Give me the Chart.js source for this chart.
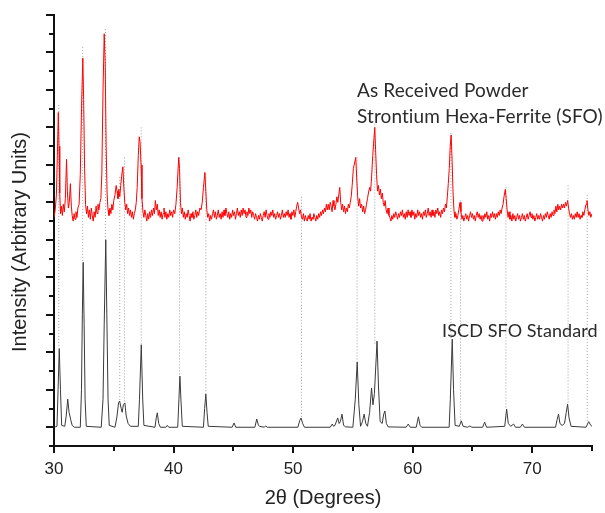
<!DOCTYPE html>
<html>
<head>
<meta charset="utf-8">
<script src="https://cdn.jsdelivr.net/npm/chart.js@4.4.0/dist/chart.umd.min.js"></script>
<style>
  html, body { margin: 0; padding: 0; background: #fff; }
</style>
</head>
<body>
<canvas id="xrd" width="605" height="513"></canvas>
<script>
const sfoScan = [
  [30.00,12.2],[30.10,12.6],[30.20,13.4],[30.28,15.5],[30.36,17.8],[30.42,16.0],[30.48,13.5],[30.55,12.4],
  [30.62,12.8],[30.70,12.3],[30.78,12.9],[30.86,12.5],[30.95,13.2],[31.05,15.3],[31.12,13.6],[31.20,12.7],
  [31.28,13.0],[31.37,14.0],[31.45,12.8],[31.52,12.3],[31.60,12.0],[31.68,12.4],[31.76,12.1],[31.84,12.5],
  [31.92,12.2],[32.00,12.7],[32.10,12.9],[32.20,14.5],[32.30,18.0],[32.41,20.7],[32.48,18.5],[32.56,14.8],
  [32.64,12.9],[32.72,12.4],[32.80,12.8],[32.88,12.2],[32.96,12.6],[33.04,12.1],[33.12,12.7],[33.20,12.3],
  [33.28,12.0],[33.36,12.5],[33.44,12.2],[33.52,12.8],[33.60,12.4],[33.68,12.9],[33.76,12.6],[33.84,13.0],
  [33.92,13.2],[34.00,14.5],[34.10,19.0],[34.20,22.0],[34.28,20.5],[34.36,16.0],[34.44,13.5],[34.52,12.6],
  [34.60,12.3],[34.68,12.7],[34.76,12.4],[34.84,12.9],[34.92,12.6],[35.00,13.1],[35.10,13.4],[35.20,13.9],
  [35.27,13.6],[35.35,13.2],[35.42,13.7],[35.50,13.3],[35.58,13.9],[35.66,14.4],[35.76,14.9],[35.84,13.8],
  [35.92,13.0],[36.00,12.6],[36.08,12.9],[36.16,12.4],[36.24,12.7],[36.32,12.3],[36.40,12.6],[36.48,12.2],
  [36.56,12.5],[36.64,12.1],[36.72,12.4],[36.80,12.6],[36.88,13.0],[36.96,13.8],[37.05,15.5],[37.13,16.5],
  [37.20,16.2],[37.28,15.0],[37.36,13.2],[37.44,12.5],[37.52,12.2],[37.60,12.6],[37.68,12.3],[37.76,12.0],
  [37.84,12.4],[37.92,12.1],[38.00,12.5],[38.08,12.2],[38.16,12.6],[38.24,12.3],[38.32,12.7],[38.40,12.4],
  [38.48,13.1],[38.56,12.6],[38.64,12.9],[38.72,12.3],[38.80,12.6],[38.88,12.2],[38.96,12.5],[39.04,12.1],
  [39.12,12.4],[39.20,12.7],[39.28,12.2],[39.36,12.5],[39.44,12.1],[39.52,12.4],[39.60,12.2],[39.68,12.6],
  [39.76,12.3],[39.84,12.5],[39.92,12.2],[40.00,12.6],[40.10,12.4],[40.20,12.9],[40.30,13.8],[40.43,15.4],
  [40.50,14.8],[40.58,13.0],[40.66,12.4],[40.74,12.7],[40.82,12.2],[40.90,12.5],[40.98,12.1],[41.06,12.4],
  [41.14,12.2],[41.22,12.6],[41.30,12.3],[41.38,12.0],[41.46,12.4],[41.54,12.2],[41.62,12.5],[41.70,12.1],
  [41.78,12.3],[41.86,12.6],[41.94,12.2],[42.02,12.5],[42.10,12.3],[42.20,12.7],[42.30,12.6],[42.40,13.0],
  [42.50,13.8],[42.62,14.6],[42.70,13.6],[42.78,12.6],[42.86,12.2],[42.94,12.4],[43.02,12.0],[43.10,12.3],
  [43.18,12.1],[43.26,12.4],[43.34,12.6],[43.42,12.2],[43.50,12.5],[43.58,12.1],[43.66,12.3],[43.74,12.6],
  [43.82,12.2],[43.90,12.4],[43.98,12.1],[44.06,12.5],[44.14,12.2],[44.22,12.6],[44.30,12.3],[44.38,12.7],
  [44.46,12.4],[44.54,12.2],[44.62,12.5],[44.70,12.1],[44.78,12.4],[44.86,12.2],[44.94,12.6],[45.02,12.3],
  [45.10,12.5],[45.18,12.1],[45.26,12.4],[45.34,12.7],[45.42,12.3],[45.50,12.5],[45.58,12.2],[45.66,12.6],
  [45.74,12.3],[45.82,12.7],[45.90,12.4],[45.98,12.6],[46.06,12.2],[46.14,12.5],[46.22,12.3],[46.30,12.7],
  [46.38,12.4],[46.46,12.6],[46.54,12.2],[46.62,12.5],[46.70,12.3],[46.78,12.1],[46.86,12.4],[46.94,12.2],
  [47.02,12.0],[47.10,12.3],[47.18,12.1],[47.26,12.4],[47.34,12.2],[47.42,12.0],[47.50,12.3],[47.58,12.5],
  [47.66,12.2],[47.74,12.6],[47.82,12.3],[47.90,12.1],[47.98,12.4],[48.06,12.2],[48.14,12.5],[48.22,12.3],
  [48.30,12.6],[48.38,12.2],[48.46,12.4],[48.54,12.1],[48.62,12.3],[48.70,12.5],[48.78,12.2],[48.86,12.4],
  [48.94,12.1],[49.02,12.3],[49.10,12.6],[49.18,12.2],[49.26,12.4],[49.34,12.2],[49.42,12.5],[49.50,12.3],
  [49.58,12.6],[49.66,12.2],[49.74,12.4],[49.82,12.1],[49.90,12.5],[49.98,12.3],[50.06,12.6],[50.14,12.2],
  [50.22,12.5],[50.30,12.8],[50.38,13.0],[50.46,12.7],[50.54,12.4],[50.62,12.6],[50.70,12.2],[50.78,12.1],
  [50.86,12.4],[50.94,12.0],[51.02,12.3],[51.10,12.1],[51.18,12.0],[51.26,12.3],[51.34,12.1],[51.42,12.4],
  [51.50,12.0],[51.58,12.2],[51.66,12.1],[51.74,12.4],[51.82,12.2],[51.90,12.0],[51.98,12.3],[52.06,12.1],
  [52.14,12.4],[52.22,12.2],[52.30,12.5],[52.38,12.3],[52.46,12.6],[52.54,12.4],[52.62,12.7],[52.70,12.5],
  [52.78,12.9],[52.86,12.6],[52.94,12.9],[53.02,12.6],[53.10,13.0],[53.18,12.8],[53.26,12.5],[53.34,13.1],
  [53.42,12.8],[53.50,12.6],[53.58,12.9],[53.66,13.3],[53.74,13.0],[53.82,13.4],[53.90,13.8],[53.98,13.0],
  [54.06,12.6],[54.14,12.9],[54.22,12.5],[54.30,12.8],[54.38,12.4],[54.46,12.7],[54.54,12.5],[54.62,12.9],
  [54.70,12.7],[54.78,13.0],[54.86,13.3],[54.94,13.9],[55.04,14.8],[55.14,15.1],[55.24,15.4],[55.32,14.3],
  [55.40,13.3],[55.48,12.8],[55.56,13.2],[55.64,12.7],[55.73,12.9],[55.82,12.5],[55.90,12.8],[55.98,12.4],
  [56.06,12.6],[56.14,12.9],[56.22,13.2],[56.30,13.5],[56.40,13.8],[56.48,13.6],[56.56,14.3],[56.66,15.5],
  [56.76,16.4],[56.83,17.0],[56.90,15.8],[56.98,14.5],[57.06,13.6],[57.14,13.9],[57.22,13.4],[57.30,13.7],
  [57.38,13.2],[57.46,13.5],[57.54,13.0],[57.62,12.8],[57.70,13.1],[57.78,12.6],[57.86,12.4],[57.94,12.7],
  [58.02,12.3],[58.10,12.2],[58.18,12.0],[58.26,12.3],[58.34,12.1],[58.42,12.4],[58.50,12.2],[58.58,12.5],
  [58.66,12.3],[58.74,12.1],[58.82,12.4],[58.90,12.2],[58.98,12.5],[59.06,12.3],[59.14,12.6],[59.22,12.2],
  [59.30,12.4],[59.38,12.1],[59.46,12.5],[59.54,12.2],[59.62,12.6],[59.70,12.3],[59.78,12.5],[59.86,12.2],
  [59.94,12.6],[60.02,12.3],[60.10,12.5],[60.18,12.1],[60.26,12.4],[60.34,12.2],[60.42,12.6],[60.50,12.3],
  [60.58,12.5],[60.66,12.2],[60.74,12.4],[60.82,12.1],[60.90,12.5],[60.98,12.3],[61.06,12.6],[61.14,12.2],
  [61.22,12.4],[61.30,12.7],[61.38,12.3],[61.46,12.5],[61.54,12.2],[61.62,12.6],[61.70,12.3],[61.78,12.5],
  [61.86,12.2],[61.94,12.6],[62.02,12.4],[62.10,12.7],[62.18,12.3],[62.26,12.5],[62.34,12.2],[62.42,12.6],
  [62.50,12.4],[62.58,12.7],[62.66,12.5],[62.74,12.9],[62.82,12.7],[62.90,13.3],[62.98,14.0],[63.06,14.8],
  [63.14,16.0],[63.22,16.6],[63.30,15.2],[63.38,13.5],[63.46,12.5],[63.54,12.2],[63.62,12.4],[63.70,12.1],
  [63.78,12.3],[63.86,12.6],[63.96,13.0],[64.04,12.5],[64.12,12.1],[64.20,12.3],[64.28,12.0],[64.36,12.2],
  [64.44,12.4],[64.52,12.1],[64.60,12.3],[64.68,12.0],[64.76,12.3],[64.84,12.5],[64.92,12.2],[65.00,12.4],
  [65.08,12.1],[65.16,12.3],[65.24,12.0],[65.32,12.3],[65.40,12.5],[65.48,12.2],[65.56,12.4],[65.64,12.1],
  [65.72,12.3],[65.80,12.0],[65.88,12.3],[65.96,12.1],[66.04,12.4],[66.12,12.2],[66.20,12.5],[66.28,12.1],
  [66.36,12.3],[66.44,12.0],[66.52,12.4],[66.60,12.2],[66.68,12.5],[66.76,12.2],[66.84,12.4],[66.92,12.1],
  [67.00,12.4],[67.08,12.2],[67.16,12.5],[67.24,12.3],[67.32,12.6],[67.40,12.4],[67.48,12.7],[67.56,12.9],
  [67.64,13.3],[67.75,13.7],[67.82,13.2],[67.90,12.6],[67.98,12.2],[68.06,12.5],[68.14,12.1],[68.22,12.3],
  [68.30,12.0],[68.38,12.4],[68.46,12.1],[68.54,12.3],[68.62,12.0],[68.70,12.2],[68.78,12.4],[68.86,12.1],
  [68.94,12.3],[69.02,12.0],[69.10,12.2],[69.18,12.4],[69.26,12.1],[69.34,12.3],[69.42,12.0],[69.50,12.2],
  [69.58,12.4],[69.66,12.1],[69.74,12.3],[69.82,12.5],[69.90,12.2],[69.98,12.4],[70.06,12.1],[70.14,12.3],
  [70.22,12.0],[70.30,12.2],[70.38,12.4],[70.46,12.1],[70.54,12.3],[70.62,12.1],[70.70,12.4],[70.78,12.2],
  [70.86,12.0],[70.94,12.3],[71.02,12.1],[71.10,12.4],[71.18,12.2],[71.26,12.5],[71.34,12.3],[71.42,12.1],
  [71.50,12.4],[71.58,12.2],[71.66,12.5],[71.74,12.3],[71.82,12.6],[71.90,12.4],[71.98,12.8],[72.06,12.5],
  [72.14,12.9],[72.22,12.6],[72.30,12.8],[72.38,12.6],[72.46,12.9],[72.54,12.7],[72.62,12.9],[72.70,12.7],
  [72.78,13.0],[72.86,12.8],[72.96,13.1],[73.04,12.7],[73.12,12.4],[73.20,12.2],[73.28,12.4],[73.36,12.1],
  [73.44,12.3],[73.52,12.1],[73.60,12.4],[73.68,12.2],[73.76,12.5],[73.84,12.2],[73.92,12.4],[74.00,12.1],
  [74.08,12.3],[74.16,12.2],[74.24,12.5],[74.32,12.3],[74.40,12.6],[74.50,12.9],[74.58,13.1],[74.66,12.6],
  [74.74,12.3],[74.82,12.5],[74.90,12.2],[75.00,12.4]
];

// ICSD standard pattern (black), baseline plus peaks
const stdPattern = [
  [30.00,1.0],[30.25,1.05],[30.34,3.0],[30.44,5.2],[30.54,3.0],[30.64,1.1],[30.90,1.05],[31.02,1.6],
  [31.15,2.5],[31.26,1.8],[31.40,1.4],[31.52,1.1],[31.70,1.0],[32.20,1.0],[32.30,3.0],[32.37,7.0],
  [32.44,9.8],[32.52,6.5],[32.60,2.5],[32.70,1.05],[33.95,1.0],[34.10,2.5],[34.20,6.5],[34.33,11.0],
  [34.42,7.0],[34.52,2.5],[34.62,1.1],[35.10,1.0],[35.25,1.5],[35.40,2.3],[35.49,2.4],[35.62,2.0],
  [35.70,1.8],[35.80,2.2],[35.93,2.3],[36.04,1.6],[36.20,1.2],[36.40,1.05],[37.05,1.05],[37.15,2.5],
  [37.30,5.4],[37.42,2.5],[37.52,1.1],[38.45,1.0],[38.55,1.5],[38.64,1.77],[38.76,1.2],[38.90,1.0],
  [39.35,1.0],[39.47,1.1],[39.60,1.0],[40.35,1.0],[40.45,2.5],[40.53,3.73],[40.63,2.3],[40.73,1.05],
  [42.50,1.0],[42.60,2.0],[42.70,2.77],[42.80,1.8],[42.90,1.05],[44.90,1.0],[45.06,1.23],[45.20,1.0],
  [46.80,1.0],[46.96,1.44],[47.10,1.1],[47.20,1.05],[47.60,1.0],[47.70,1.07],[47.85,1.0],[50.40,1.0],
  [50.55,1.35],[50.66,1.49],[50.80,1.2],[50.95,1.0],[53.10,1.0],[53.27,1.17],[53.38,1.05],[53.50,1.1],
  [53.73,1.5],[53.85,1.2],[53.95,1.3],[54.09,1.7],[54.22,1.1],[54.40,1.02],[55.00,1.0],[55.20,2.5],
  [55.36,4.48],[55.50,2.2],[55.64,1.05],[55.80,1.3],[55.94,1.7],[56.08,1.2],[56.22,1.05],[56.40,1.8],
  [56.56,3.1],[56.68,2.2],[56.80,2.8],[57.02,5.6],[57.14,3.2],[57.28,1.3],[57.45,1.2],[57.58,1.7],
  [57.68,1.87],[57.80,1.2],[57.95,1.02],[59.45,1.0],[59.63,1.17],[59.80,1.0],[60.30,1.0],[60.48,1.56],
  [60.62,1.1],[60.75,1.0],[63.05,1.0],[63.15,2.5],[63.31,5.7],[63.42,3.0],[63.55,1.1],[63.90,1.05],
  [64.07,1.34],[64.22,1.05],[64.60,1.0],[64.79,1.07],[64.95,1.0],[65.85,1.0],[66.02,1.27],[66.18,1.0],
  [67.70,1.05],[67.86,1.97],[68.00,1.2],[68.20,1.05],[68.44,1.17],[68.60,1.0],[69.00,1.0],[69.18,1.17],
  [69.35,1.0],[71.95,1.0],[72.08,1.4],[72.20,1.7],[72.32,1.2],[72.50,1.1],[72.70,1.2],[72.85,1.8],
  [72.96,2.23],[73.08,1.5],[73.25,1.05],[74.50,1.0],[74.72,1.3],[74.90,1.1],[75.00,1.05]
];

// dotted guide lines linking matching reflections
const guidePos    = [30.4, 32.4, 34.3, 35.5, 35.9, 37.3, 40.5, 42.7, 50.7, 55.35, 56.83, 63.2, 64.0, 67.8, 73.0, 74.6];
const guideTop    = [18.2, 21.3, 22.25, 14.35, 15.4, 17.0, 15.4, 14.5, 13.3, 15.4, 17.2, 16.7, 13.1, 13.8, 13.9, 13.4];
const guideBottom = [5.23, 9.8, 11.0, 2.4, 2.3, 5.4, 3.73, 2.77, 1.49, 4.48, 5.4, 5.7, 1.34, 1.97, 2.23, 1.34];

const xMajorTicks = [30, 40, 50, 60, 70];
const xMinorTicks = [35, 45, 55, 65, 75];
const yMin = 0, yMax = 23;

const xTitle = '2θ (Degrees)';
const yTitle = 'Intensity (Arbitrary Units)';
const sampleLabel = ['As Received Powder', 'Strontium Hexa-Ferrite (SFO)'];
const standardLabel = 'ISCD SFO Standard';

Chart.defaults.font.family = '"Liberation Sans", Arial, sans-serif';

const toXY = arr => arr.map(([x, y]) => ({ x, y }));

const guideSets = guidePos.map((p, i) => ({
  data: [{ x: p, y: guideTop[i] }, { x: p, y: guideBottom[i] }],
  showLine: true,
  borderColor: '#a0a0a0',
  borderWidth: 1,
  borderDash: [1, 2],
  pointRadius: 0,
  order: 3
}));

// tick marks (long/short) and text labels drawn over the axes
const axisDecor = {
  id: 'axisDecor',
  afterDraw(chart) {
    const { ctx, chartArea, scales: { x, y } } = chart;
    ctx.save();
    ctx.strokeStyle = '#111';
    ctx.lineWidth = 2;
    ctx.beginPath();
    x.ticks.forEach(t => {
      const px = Math.round(x.getPixelForValue(t.value));
      const len = xMajorTicks.includes(t.value) ? 7 : 5;
      ctx.moveTo(px, chartArea.bottom);
      ctx.lineTo(px, chartArea.bottom + len);
    });
    y.ticks.forEach(t => {
      const py = Math.round(y.getPixelForValue(t.value));
      const len = t.value % 2 === 1 ? 8 : 5;
      ctx.moveTo(chartArea.left - len, py);
      ctx.lineTo(chartArea.left, py);
    });
    ctx.stroke();

    ctx.fillStyle = '#222';
    ctx.save();
    ctx.translate(20, 242);
    ctx.rotate(-Math.PI / 2);
    ctx.textAlign = 'center';
    ctx.textBaseline = 'middle';
    ctx.font = '20px "Liberation Sans", Arial, sans-serif';
    ctx.fillText(yTitle, 0, 0);
    ctx.restore();

    ctx.fillStyle = '#2a2a2a';
    ctx.textAlign = 'left';
    ctx.textBaseline = 'alphabetic';
    ctx.font = '19px Lato, "Open Sans", sans-serif';
    ctx.letterSpacing = '0.1px'; // keeps "ti" from turning into a ligature
    ctx.fillText(sampleLabel[0], 357, 97);
    ctx.fillText(sampleLabel[1], 357, 123);
    ctx.font = '18px Lato, "Open Sans", sans-serif';
    ctx.fillText(standardLabel, 442, 337);
    ctx.restore();
  }
};

new Chart(document.getElementById('xrd'), {
  type: 'scatter',
  data: {
    datasets: [
      {
        label: 'As Received Powder',
        data: toXY(sfoScan),
        showLine: true,
        borderColor: '#ff0000',
        borderWidth: 1,
        pointRadius: 0,
        order: 1
      },
      {
        label: 'ISCD SFO Standard',
        data: toXY(stdPattern),
        showLine: true,
        borderColor: '#3a3a3a',
        borderWidth: 1,
        pointRadius: 0,
        order: 1
      },
      ...guideSets
    ]
  },
  options: {
    responsive: false,
    animation: false,
    layout: { padding: { top: 15, right: 5, left: 0, bottom: 0 } },
    plugins: { legend: { display: false }, tooltip: { enabled: false } },
    scales: {
      x: {
        type: 'linear',
        min: 30,
        max: 75,
        grid: { display: false, drawTicks: false },
        border: { display: true, color: '#111', width: 2 },
        afterBuildTicks: s => {
          s.ticks = [...xMajorTicks, ...xMinorTicks].sort((a, b) => a - b).map(v => ({ value: v }));
        },
        ticks: {
          autoSkip: false,
          maxRotation: 0,
          padding: 13,
          color: '#222',
          font: { size: 17 },
          callback: v => (xMajorTicks.includes(v) ? String(v) : '')
        },
        title: {
          display: true,
          text: xTitle,
          color: '#222',
          font: { size: 20 },
          padding: { top: 0, bottom: 3 }
        },
        afterFit: s => { s.height = 67; }
      },
      y: {
        type: 'linear',
        min: yMin,
        max: yMax,
        grid: { display: false, drawTicks: false },
        border: { display: true, color: '#111', width: 2 },
        ticks: { display: false, stepSize: 1 },
        afterFit: s => { s.width = 54; }
      }
    }
  },
  plugins: [axisDecor]
});
</script>
</body>
</html>
